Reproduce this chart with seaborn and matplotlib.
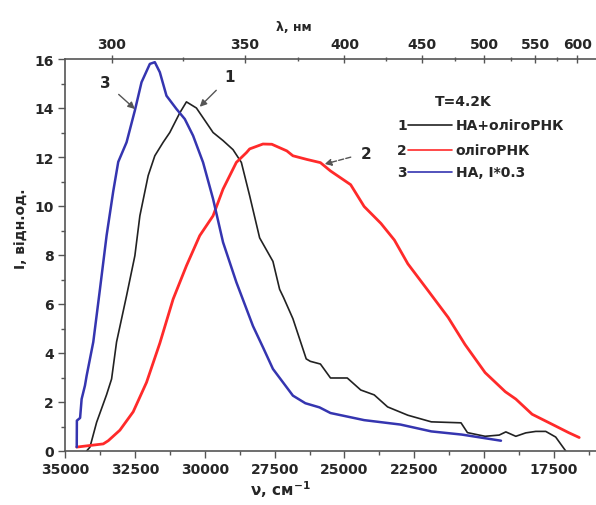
import numpy as np
import pandas as pd
import matplotlib
matplotlib.use("Agg")
import matplotlib.pyplot as plt
import seaborn as sns
from matplotlib.ticker import MultipleLocator, FormatStrFormatter

# spectra: wavenumber (cm^-1) and intensity (rel. units)
black_nu = [34226, 34107, 33869, 33512, 33333, 33155, 32797, 32500, 32321, 32024,
            31786, 31488, 31250, 30893, 30655, 30298, 29940, 29702, 29345, 28988,
            28690, 28393, 28036, 27560, 27321, 27182, 26845, 26369, 26222, 25861,
            25500, 24900, 24418, 23936, 23457, 22732, 21893, 20830, 20600, 19968,
            19464, 19226, 18869, 18512, 18155, 17798, 17443, 17083]
black_I = [0.0, 0.16, 1.17, 2.3, 2.94, 4.45, 6.34, 7.97, 9.6, 11.24,
           12.05, 12.6, 13.0, 13.8, 14.25, 14.0, 13.4, 13.0, 12.67, 12.3,
           11.78, 10.42, 8.7, 7.74, 6.6, 6.27, 5.4, 3.76, 3.66, 3.55,
           2.98, 2.98, 2.49, 2.29, 1.8, 1.46, 1.19, 1.15, 0.75, 0.6,
           0.65, 0.78, 0.6, 0.74, 0.8, 0.8, 0.57, 0.0]

red_nu = [34580, 33631, 33452, 33036, 32560, 32083, 31607, 31131, 30655, 30179,
          29702, 29345, 28869, 28507, 28393, 27917, 27600, 27064, 26845, 26343,
          25861, 25500, 24779, 24296, 23696, 23214, 22732, 22011, 21289, 20689,
          19968, 19246, 18869, 18286, 17500, 16980, 16600]
red_I = [0.16, 0.29, 0.42, 0.85, 1.6, 2.8, 4.4, 6.2, 7.56, 8.79,
         9.6, 10.69, 11.78, 12.18, 12.33, 12.53, 12.52, 12.25, 12.05, 11.9,
         11.77, 11.43, 10.87, 9.98, 9.29, 8.61, 7.64, 6.55, 5.45, 4.35,
         3.2, 2.42, 2.12, 1.5, 1.05, 0.75, 0.55]

blue_nu = [34580, 34575, 34460, 34405, 34286, 34226, 33988, 33750, 33511, 33274,
           33095, 32797, 32500, 32262, 31964, 31786, 31607, 31369, 31012, 30714,
           30417, 30060, 29702, 29345, 28869, 28274, 27903, 27560, 26845, 26400,
           25893, 25500, 24296, 23000, 21893, 20800, 19400]
blue_I = [0.16, 1.24, 1.35, 2.12, 2.67, 3.07, 4.45, 6.6, 8.8, 10.6,
          11.8, 12.6, 13.9, 15.05, 15.8, 15.87, 15.46, 14.5, 13.96, 13.55,
          12.87, 11.78, 10.29, 8.52, 6.89, 5.1, 4.2, 3.35, 2.26, 1.95,
          1.78, 1.55, 1.26, 1.08, 0.8, 0.67, 0.42]

lam_ticks = [300, 350, 400, 450, 500, 550, 600]
lam_minor = [325, 375, 425, 475, 525, 575]

legend_nums = ['1', '2', '3']
legend_labels = ['НА+олігоРНК', 'олігоРНК', 'НА, I*0.3']
colors = ['#222222', '#ff2a2a', '#3535b0']
widths = [1.2, 2.0, 1.8]


def main():
    sns.set_theme(style="ticks")
    plt.rcParams['font.family'] = ['DejaVu Sans']

    fig = plt.figure(figsize=(5.96, 5.06), dpi=100)
    ax = fig.add_axes([65 / 596, 1 - 452 / 506, 531 / 596, 392 / 506])

    series = [(black_nu, black_I), (red_nu, red_I), (blue_nu, blue_I)]
    for (nu, inten), c, lw in zip(series, colors, widths):
        df = pd.DataFrame({'nu': nu, 'I': inten})
        sns.lineplot(data=df, x='nu', y='I', ax=ax, color=c, linewidth=lw,
                     estimator=None, sort=False)

    ax.set_xlim(35000, 16000)
    ax.set_ylim(0, 16)
    ax.xaxis.set_major_locator(MultipleLocator(2500))
    ax.xaxis.set_minor_locator(MultipleLocator(1250))
    ax.yaxis.set_major_locator(MultipleLocator(2))
    ax.yaxis.set_minor_locator(MultipleLocator(1))
    ax.xaxis.set_major_formatter(FormatStrFormatter('%d'))
    ax.yaxis.set_major_formatter(FormatStrFormatter('%d'))

    spine_c = '#555555'
    for s in ['right', 'top']:
        ax.spines[s].set_visible(False)
    for s in ['left', 'bottom']:
        ax.spines[s].set_color(spine_c)
        ax.spines[s].set_linewidth(1.2)
    ax.tick_params(which='major', direction='out', length=5, width=1,
                   color=spine_c, labelsize=10, pad=3)
    ax.tick_params(which='minor', direction='out', length=3, width=1,
                   color=spine_c)
    for lbl in ax.get_xticklabels() + ax.get_yticklabels():
        lbl.set_fontweight('bold')

    ax.set_xlabel(r'ν, см$^{\mathbf{-1}}$', fontsize=11, fontweight='bold')
    ax.xaxis.set_label_coords(0.405, -0.07)
    ax.set_ylabel('I, відн.од.', fontsize=10, fontweight='bold')
    ax.yaxis.set_label_coords(-0.068, 0.57)

    # wavelength axis on top
    sec = ax.secondary_xaxis('top', functions=(lambda x: 1e7 / x, lambda x: 1e7 / x))
    sec.set_xticks(lam_ticks)
    sec.set_xticks(lam_minor, minor=True)
    sec.xaxis.set_major_formatter(FormatStrFormatter('%d'))
    sec.spines['top'].set_color(spine_c)
    sec.spines['top'].set_linewidth(1.2)
    sec.tick_params(which='major', direction='inout', length=6, width=1,
                    color=spine_c, labelsize=10, pad=3)
    sec.tick_params(which='minor', direction='inout', length=3, width=1,
                    color=spine_c)
    for lbl in sec.get_xticklabels():
        lbl.set_fontweight('bold')
    sec.set_xlabel('λ, нм', fontsize=9, fontweight='bold', labelpad=5, x=0.43)

    # curve labels with arrows
    arrow = dict(arrowstyle='-|>', color='#555555', lw=1, shrinkA=5, shrinkB=0,
                 mutation_scale=10)
    ax.annotate('3', xy=(32500, 13.96), xytext=(33571, 15.06), ha='center',
                va='center', fontsize=11, fontweight='bold', arrowprops=arrow)
    ax.annotate('1', xy=(30179, 14.05), xytext=(29107, 15.27), ha='center',
                va='center', fontsize=11, fontweight='bold', arrowprops=arrow)
    ax.annotate('2', xy=(25714, 11.71), xytext=(24226, 12.16), ha='center',
                va='center', fontsize=11, fontweight='bold',
                arrowprops=dict(arrow, linestyle='--'))

    # legend block
    ax.text(0.75, 0.893, 'T=4.2K', transform=ax.transAxes, ha='center',
            va='center', fontsize=10, fontweight='bold')
    rows_y = [0.832, 0.768, 0.712]
    for num, lab, c, y in zip(legend_nums, legend_labels, colors, rows_y):
        ax.text(0.635, y, num, transform=ax.transAxes, ha='center', va='center',
                fontsize=10, fontweight='bold')
        ax.plot([0.646, 0.729], [y, y], transform=ax.transAxes, color=c, lw=1.2)
        ax.text(0.736, y, lab, transform=ax.transAxes, ha='left', va='center',
                fontsize=10, fontweight='bold')

    fig.savefig('out.png', dpi=100)
    plt.close(fig)


if __name__ == '__main__':
    main()
